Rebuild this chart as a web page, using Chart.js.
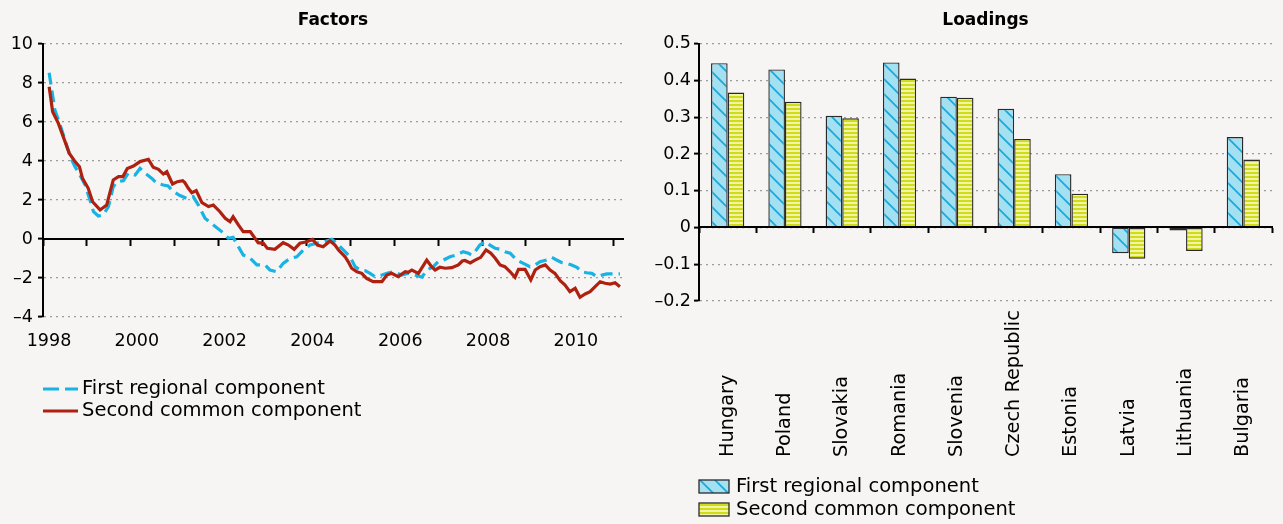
<!DOCTYPE html>
<html>
<head>
<meta charset="utf-8">
<script src="https://cdn.jsdelivr.net/npm/chart.js@4.4.1/dist/chart.umd.min.js"></script>
<style>
html, body { margin: 0; padding: 0; background: #f6f5f3; }
#wrap { position: relative; width: 1283px; height: 524px; overflow: hidden; }
canvas { position: absolute; top: 0; }
#c1 { left: 0; }
#c2 { left: 640px; }
</style>
</head>
<body>
<div id="wrap">
  <canvas id="c1" width="640" height="524"></canvas>
  <canvas id="c2" width="643" height="524"></canvas>
</div>
<script>
// ---------- DATA ----------
const seriesNames = ['First regional component', 'Second common component'];
const chartTitles = ['Factors', 'Loadings'];

// First regional component (dashed blue), time in decimal years
const blueYears = [1998.14,1998.20,1998.27,1998.39,1998.50,1998.62,1998.73,1998.84,1998.96,1999.07,1999.15,1999.26,1999.37,1999.49,1999.60,1999.69,1999.83,1999.94,2000.10,2000.21,2000.35,2000.48,2000.59,2000.74,2000.85,2000.97,2001.12,2001.27,2001.42,2001.54,2001.69,2001.88,2002.07,2002.22,2002.33,2002.45,2002.56,2002.72,2002.87,2003.06,2003.17,2003.32,2003.47,2003.63,2003.78,2003.93,2004.08,2004.23,2004.38,2004.58,2004.69,2004.84,2004.99,2005.11,2005.22,2005.33,2005.45,2005.56,2005.72,2005.87,2005.98,2006.17,2006.32,2006.47,2006.63,2006.74,2006.89,2007.00,2007.12,2007.27,2007.42,2007.57,2007.69,2007.76,2007.84,2007.95,2008.07,2008.18,2008.30,2008.41,2008.52,2008.64,2008.79,2008.94,2009.09,2009.21,2009.32,2009.47,2009.59,2009.70,2009.82,2009.93,2010.04,2010.16,2010.27,2010.38,2010.50,2010.61,2010.73,2010.84,2010.99,2011.14];
const blueValues = [8.53,7.64,6.62,5.85,5.08,4.22,3.71,3.28,2.77,2.00,1.40,1.18,1.23,1.66,2.68,2.94,2.99,3.37,3.28,3.62,3.33,3.11,2.86,2.77,2.72,2.43,2.23,2.09,2.17,1.74,1.06,0.72,0.38,0.04,0.09,-0.39,-0.82,-0.99,-1.33,-1.33,-1.59,-1.68,-1.25,-0.99,-0.91,-0.56,-0.31,-0.22,-0.15,-0.02,-0.22,-0.56,-0.91,-1.42,-1.59,-1.62,-1.76,-1.93,-1.85,-1.73,-1.68,-1.85,-1.76,-1.85,-1.96,-1.59,-1.42,-1.16,-1.08,-0.91,-0.82,-0.65,-0.73,-0.82,-0.65,-0.31,-0.14,-0.31,-0.48,-0.53,-0.65,-0.73,-1.08,-1.25,-1.42,-1.33,-1.16,-1.08,-0.94,-1.08,-1.21,-1.25,-1.33,-1.45,-1.68,-1.73,-1.76,-1.93,-1.85,-1.79,-1.79,-1.79];

// Second common component (solid red)
const redYears = [1998.14,1998.22,1998.35,1998.46,1998.60,1998.73,1998.83,1998.90,1999.03,1999.13,1999.30,1999.45,1999.53,1999.60,1999.72,1999.82,1999.92,2000.06,2000.21,2000.40,2000.51,2000.63,2000.74,2000.82,2000.95,2001.06,2001.18,2001.23,2001.31,2001.39,2001.49,2001.62,2001.77,2001.88,2002.03,2002.15,2002.26,2002.33,2002.45,2002.56,2002.72,2002.90,2003.02,2003.11,2003.28,2003.47,2003.59,2003.72,2003.85,2004.01,2004.14,2004.25,2004.38,2004.54,2004.65,2004.73,2004.80,2004.88,2004.95,2005.03,2005.15,2005.26,2005.37,2005.52,2005.72,2005.83,2005.94,2006.09,2006.25,2006.32,2006.40,2006.55,2006.74,2006.85,2006.93,2007.04,2007.16,2007.31,2007.46,2007.55,2007.61,2007.73,2007.84,2007.97,2008.09,2008.20,2008.30,2008.41,2008.52,2008.64,2008.75,2008.83,2008.98,2009.11,2009.21,2009.32,2009.44,2009.55,2009.66,2009.78,2009.89,2010.00,2010.12,2010.23,2010.35,2010.46,2010.57,2010.69,2010.80,2010.92,2011.03,2011.14];
const redValues = [7.81,6.53,5.93,5.25,4.39,3.97,3.71,3.11,2.60,1.91,1.49,1.74,2.43,3.03,3.20,3.20,3.62,3.74,3.97,4.09,3.68,3.57,3.33,3.45,2.82,2.94,2.99,2.89,2.60,2.37,2.48,1.86,1.66,1.74,1.40,1.06,0.89,1.14,0.72,0.38,0.38,-0.19,-0.22,-0.48,-0.53,-0.19,-0.31,-0.53,-0.22,-0.14,-0.02,-0.31,-0.40,-0.10,-0.31,-0.56,-0.73,-0.91,-1.16,-1.50,-1.68,-1.76,-2.02,-2.19,-2.19,-1.85,-1.76,-1.93,-1.68,-1.71,-1.59,-1.76,-1.08,-1.42,-1.59,-1.45,-1.50,-1.47,-1.33,-1.13,-1.10,-1.23,-1.08,-0.94,-0.56,-0.73,-0.99,-1.33,-1.42,-1.68,-1.96,-1.56,-1.56,-2.10,-1.59,-1.42,-1.33,-1.59,-1.76,-2.14,-2.36,-2.70,-2.53,-2.99,-2.82,-2.70,-2.45,-2.19,-2.27,-2.31,-2.24,-2.45];

// Loadings
const countries = ['Hungary','Poland','Slovakia','Romania','Slovenia','Czech Republic','Estonia','Latvia','Lithuania','Bulgaria'];
const firstLoadings  = [0.447, 0.430, 0.304, 0.449, 0.356, 0.323, 0.145, -0.070, -0.008, 0.246];
const secondLoadings = [0.367, 0.342, 0.297, 0.405, 0.353, 0.241, 0.092, -0.085, -0.064, 0.185];

// Axis ranges / ticks
const factorYRange = [-4, 10, 2];
const factorXRange = [1998, 2011.21];
const loadingYRange = [-0.2, 0.5, 0.1];

// ---------- STYLE ----------
const BLUE = '#17b3e4';
const RED = '#ae2110';
const FONT = "'DejaVu Sans'";
Chart.defaults.font.family = FONT;
Chart.defaults.color = '#000';

const dash = (v) => { const r = Math.round(v * 10) / 10; return (r < 0 ? '\u2013' : '') + Math.abs(r); };

function hatchPattern() {
  const n = 15;
  const t = document.createElement('canvas'); t.width = n; t.height = n;
  const g = t.getContext('2d');
  g.fillStyle = '#a3e0f2'; g.fillRect(0, 0, n, n);
  g.strokeStyle = '#1aa8da'; g.lineWidth = 1.7;
  [-n, 0, n].forEach(o => { g.beginPath(); g.moveTo(o - 2, -2); g.lineTo(o + n + 2, n + 2); g.stroke(); });
  return g.createPattern(t, 'repeat');
}
function stripePattern() {
  const t = document.createElement('canvas'); t.width = 4; t.height = 4;
  const g = t.getContext('2d');
  g.fillStyle = '#f0f4a4'; g.fillRect(0, 0, 4, 4);
  g.fillStyle = '#d0dc18'; g.fillRect(0, 0, 4, 2);
  return g.createPattern(t, 'repeat');
}

const stackLegend = {
  id: 'stackLegend',
  afterDraw(chart, args, o) {
    const ctx = chart.ctx;
    ctx.save();
    ctx.font = o.fontSize + 'px ' + FONT;
    ctx.textBaseline = 'middle';
    ctx.textAlign = 'left';
    chart.data.datasets.forEach((ds, i) => {
      const cy = o.y + i * o.rowHeight;
      if (o.kind === 'line') {
        ctx.beginPath();
        ctx.setLineDash(ds.legendDash || []);
        ctx.strokeStyle = ds.borderColor; ctx.lineWidth = ds.borderWidth;
        ctx.moveTo(o.x, cy); ctx.lineTo(o.x + o.boxWidth, cy); ctx.stroke();
        ctx.setLineDash([]);
      } else {
        ctx.fillStyle = ds.backgroundColor;
        ctx.fillRect(o.x, cy - o.boxHeight / 2, o.boxWidth, o.boxHeight);
        ctx.strokeStyle = ds.borderColor; ctx.lineWidth = 1.3;
        ctx.strokeRect(o.x, cy - o.boxHeight / 2, o.boxWidth, o.boxHeight);
      }
      ctx.fillStyle = '#000';
      ctx.fillText(ds.label, o.x + o.boxWidth + o.gap, cy);
    });
    ctx.restore();
  }
};

const bottomLabels = {
  id: 'bottomLabels',
  afterDraw(chart, args, o) {
    const xs = chart.scales.x, ctx = chart.ctx;
    ctx.save();
    ctx.font = o.fontSize + 'px ' + FONT;
    ctx.fillStyle = '#000';
    ctx.textAlign = 'left';
    ctx.textBaseline = 'middle';
    chart.data.labels.forEach((lab, i) => {
      ctx.save();
      ctx.translate(xs.getPixelForValue(i), o.y);
      ctx.rotate(-Math.PI / 2);
      ctx.fillText(lab, 0, 0);
      ctx.restore();
    });
    ctx.restore();
  }
};

// ---------- FACTORS (line chart) ----------
new Chart(document.getElementById('c1'), {
  type: 'line',
  data: {
    datasets: [
      { label: seriesNames[0], data: blueYears.map((x, i) => ({ x, y: blueValues[i] })),
        borderColor: BLUE, borderWidth: 3.2, borderDash: [12, 6], legendDash: [16, 6],
        pointRadius: 0, tension: 0, fill: false, order: 1 },
      { label: seriesNames[1], data: redYears.map((x, i) => ({ x, y: redValues[i] })),
        borderColor: RED, borderWidth: 3.2, pointRadius: 0, tension: 0, fill: false, order: 0 }
    ]
  },
  options: {
    responsive: false, animation: false, devicePixelRatio: 1,
    layout: { padding: { left: 0, right: 17, top: 0, bottom: 177 } },
    plugins: {
      legend: { display: false }, tooltip: { enabled: false },
      title: { display: true, text: chartTitles[0], fullSize: false, color: '#000',
               font: { size: 17, weight: 'bold', lineHeight: 1.2 }, padding: { top: 10, bottom: 13.6 } },
      stackLegend: { kind: 'line', x: 43, y: 389, rowHeight: 22, boxWidth: 35, gap: 4, fontSize: 19.5 }
    },
    scales: {
      x: { type: 'linear', position: 'bottom', min: factorXRange[0], max: factorXRange[1],
           border: { display: false }, grid: { display: false, drawTicks: false },
           ticks: { stepSize: 2, includeBounds: false, autoSkip: false, maxRotation: 0, labelOffset: 6,
                    padding: 14, font: { size: 17.5 }, color: '#000', callback: v => String(v) },
           afterFit: s => { s.height = 30; } },
      x2: { type: 'linear', axis: 'x', position: { y: 0 }, min: factorXRange[0], max: factorXRange[1],
            border: { display: true, color: '#000', width: 2 },
            grid: { drawOnChartArea: false, drawTicks: true, tickLength: 6, tickColor: '#000', tickWidth: 2 },
            ticks: { display: false, stepSize: 1, includeBounds: false },
            afterFit: s => { s.height = 0; } },
      y: { min: factorYRange[0], max: factorYRange[1],
           border: { display: true, color: '#000', width: 2, dash: [2, 4] },
           grid: { color: '#9c9c9c', lineWidth: 1.2, tickColor: '#000', tickWidth: 2, tickLength: 5, tickBorderDash: [] },
           ticks: { stepSize: factorYRange[2], padding: 5, font: { size: 17.5 }, color: '#000', callback: dash },
           afterFit: s => { s.width = 43; } }
    }
  },
  plugins: [stackLegend]
});

// ---------- LOADINGS (bar chart) ----------
const hatch = hatchPattern(), stripes = stripePattern();
new Chart(document.getElementById('c2'), {
  type: 'bar',
  data: {
    labels: countries,
    datasets: [
      { label: seriesNames[0], data: firstLoadings, backgroundColor: hatch, borderColor: '#2a2a2a', borderWidth: 1.4, borderSkipped: false },
      { label: seriesNames[1], data: secondLoadings, backgroundColor: stripes, borderColor: '#2a2a2a', borderWidth: 1.4, borderSkipped: false }
    ]
  },
  options: {
    responsive: false, animation: false, devicePixelRatio: 1,
    datasets: { bar: { categoryPercentage: 0.58, barPercentage: 1 } },
    layout: { padding: { left: 0, right: 11, top: 0, bottom: 223 } },
    plugins: {
      legend: { display: false }, tooltip: { enabled: false },
      title: { display: true, text: chartTitles[1], fullSize: false, color: '#000',
               font: { size: 17, weight: 'bold', lineHeight: 1.2 }, padding: { top: 10, bottom: 13.3 } },
      stackLegend: { kind: 'box', x: 59, y: 486.5, rowHeight: 23, boxWidth: 30, boxHeight: 13, gap: 7, fontSize: 19.5 },
      bottomLabels: { y: 457, fontSize: 19.3 }
    },
    scales: {
      x: { type: 'category', axis: 'x', position: { y: 0 }, offset: true,
           border: { display: true, color: '#000', width: 2, z: 1 },
           grid: { offset: true, drawOnChartArea: false, drawTicks: true, tickLength: 5, tickColor: '#000', tickWidth: 2, z: 1 },
           ticks: { display: false },
           afterFit: s => { s.height = 0; } },
      y: { min: loadingYRange[0], max: loadingYRange[1],
           border: { display: true, color: '#000', width: 2, dash: [2, 4] },
           grid: { color: '#9c9c9c', lineWidth: 1.2, tickColor: '#000', tickWidth: 2, tickLength: 5, tickBorderDash: [] },
           ticks: { stepSize: loadingYRange[2], padding: 3, font: { size: 17.5 }, color: '#000', callback: dash },
           afterFit: s => { s.width = 59; } }
    }
  },
  plugins: [stackLegend, bottomLabels]
});
</script>
</body>
</html>
